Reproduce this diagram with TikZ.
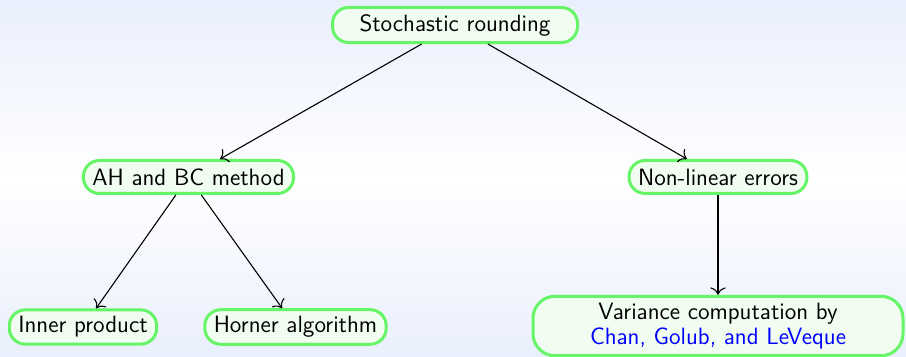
\documentclass[tikz,border=0pt]{standalone}
\usetikzlibrary{arrows.meta}
\definecolor{bgtop}{RGB}{233,239,252}
\definecolor{nodeline}{RGB}{102,245,102}
\definecolor{nodefill}{RGB}{241,253,241}

\begin{document}
\begin{tikzpicture}[x=0.5pt,y=-0.5pt]
  \tikzset{VertexStyle/.style = {draw=nodeline, line width=1.5pt, fill=nodefill,
                                 rounded corners=8pt, align=center,
                                 font=\sffamily\fontsize{11.8}{12.6}\selectfont,
                                 inner xsep=4.5pt, minimum height=16.5pt},
           EdgeStyle/.style   = {-{To[scale=1.3]}, black, line width=0.55pt}}
  \fill[top color=bgtop, bottom color=bgtop, middle color=white] (0,0) rectangle (906,357);
  \useasboundingbox (0,0) rectangle (906,357);
  \node[VertexStyle, minimum width=122.5pt] (SR) at (455,25)  {Stochastic rounding};
  \node[VertexStyle] (AH) at (188.5,177) {AH and BC method};
  \node[VertexStyle] (NL) at (718,177)   {Non-linear errors};
  \node[VertexStyle] (IP) at (83,327)    {Inner product};
  \node[VertexStyle] (HA) at (295.5,327) {Horner algorithm};
  \node[VertexStyle, minimum width=185pt, minimum height=28.5pt,
        rounded corners=11pt] (VC) at (718,326)
        {Variance computation by\\ \textcolor{blue}{Chan, Golub, and LeVeque}};
  \draw[EdgeStyle] (SR) -- (AH);
  \draw[EdgeStyle] (SR) -- (NL);
  \draw[EdgeStyle] (AH) -- (IP);
  \draw[EdgeStyle] (AH) -- (HA);
  \draw[EdgeStyle] (NL) -- (VC);
\end{tikzpicture}
\end{document}
